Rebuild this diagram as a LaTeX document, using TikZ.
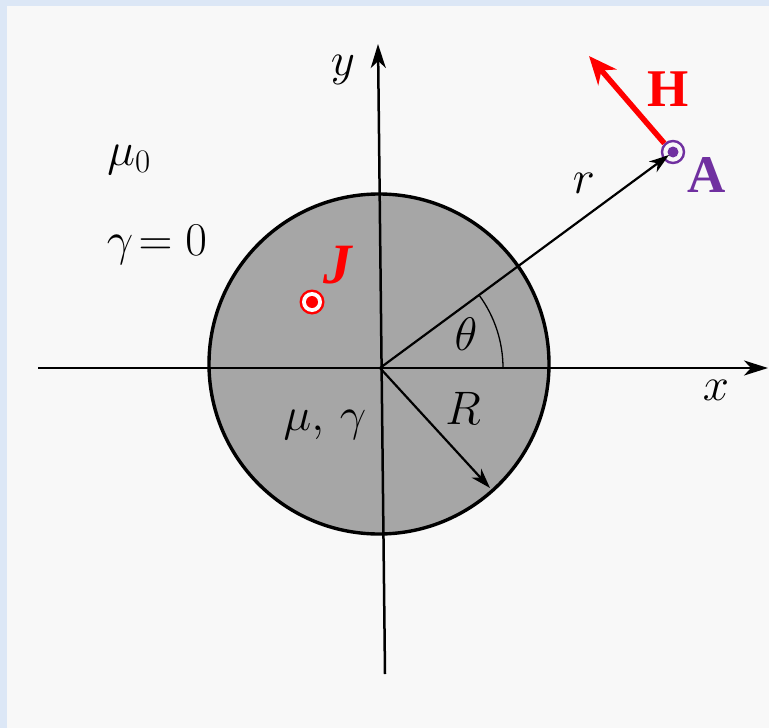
\RequirePackage{fix-cm}
\documentclass[tikz,border=0pt]{standalone}
\usepackage{fontspec}
\setmainfont{Liberation Serif}
\usetikzlibrary{arrows.meta}
\definecolor{bgblue}{HTML}{DCE7F6}
\definecolor{panel}{HTML}{F8F8F8}
\definecolor{disk}{HTML}{A6A6A6}
\definecolor{purp}{HTML}{7030A0}
\begin{document}
\begin{tikzpicture}[x=1pt,y=-1pt,
  lbl/.style={font=\fontsize{47}{50}\selectfont, inner sep=0pt},
  blbl/.style={font=\fontsize{53}{56}\selectfont\bfseries, inner sep=0pt},
  axisline/.style={line width=2.5pt,-{Stealth[length=24pt,width=15pt,inset=7pt]}},
  thinarrow/.style={line width=2.2pt,-{Stealth[length=20pt,width=13pt,inset=6pt]}}]
\useasboundingbox (0,0) rectangle (769,728);
\fill[bgblue] (0,0) rectangle (769,728);
\fill[panel] (7,6) rectangle (769,728);
% disk
\node[circle, draw, line width=3.4pt, fill=disk, minimum size=340pt, inner sep=0pt] (disk) at (379,364) {};
% axes
\coordinate (O) at (380,368);
\coordinate (xl) at (38,368);
\coordinate (xr) at (768,368);
\coordinate (yb) at (385,674);
\coordinate (yt) at (378,44);
\draw[axisline] (xl) -- (xr);
\draw[axisline] (yb) -- (yt);
% point A
\node[circle, draw=purp, line width=2.4pt, minimum size=22pt, inner sep=0pt] (A) at (673,152) {};
\fill[purp] (A.center) circle (5.5pt);
% r line
\draw[thinarrow, shorten >=5pt] (O) -- (A.center);
% angle arc
\draw[line width=1.3pt] (O) ++(0:123) arc[start angle=0, end angle=-36.4, radius=123];
% R arrow
\coordinate (Rend) at (490,488);
\draw[thinarrow] (O) -- (Rend);
% H arrow
\coordinate (Htip) at (589,56);
\draw[red, line width=5.5pt, -{Stealth[length=28pt,width=24pt,inset=9pt]}] (A.135) -- (Htip);
% J marker
\node[circle, fill=red, minimum size=25pt, inner sep=0pt] (Jm) at (312,302) {};
\node[circle, fill=white, minimum size=20pt, inner sep=0pt] at (Jm) {};
\node[circle, fill=red, minimum size=12pt, inner sep=0pt] at (Jm) {};
% labels
\node[lbl] (ylab) at (343,70) {$y$};
\node[lbl] (xlab) at (716,390) {$x$};
\node[lbl] (rlab) at (584,183) {$r$};
\node[lbl] (thlab) at (466,334) {$\theta$};
\node[lbl] (Rlab) at (463,408) {$R$};
\node[lbl] (mgl) at (325,425) {$\mu,\,\gamma$};
\node[lbl] (mu0) at (129,160) {$\mu_0$};
\node[lbl] (g0) at (157,245) {$\gamma\!=0$};
\node[blbl, red, font=\fontsize{57}{60}\selectfont\bfseries\itshape] (Jlab) at (338,265) {J};
\node[blbl, red] (Hlab) at (668,89) {H};
\node[blbl, purp] (Alab) at (707,175) {A};
\end{tikzpicture}
\end{document}
